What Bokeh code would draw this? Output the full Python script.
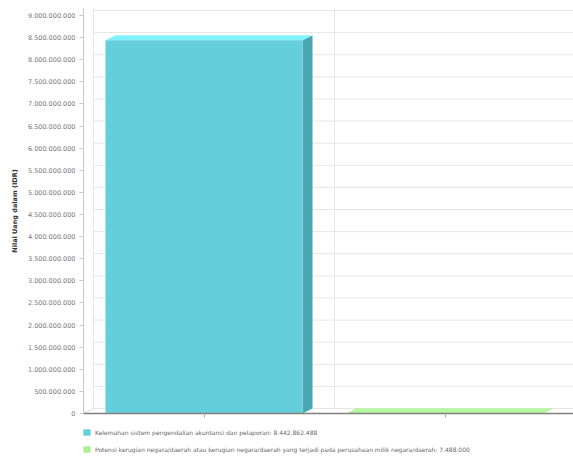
from bokeh.plotting import figure
from bokeh.layouts import column
from bokeh.models import Range1d, FixedTicker, Legend, LegendItem, ColumnDataSource
from bokeh.embed import file_html
from bokeh.resources import INLINE

# ---- data ----
categories = [
    "Kelemahan sistem pengendalian akuntansi dan pelaporan",
    "Potensi kerugian negara/daerah atau kerugian negara/daerah yang terjadi pada perusahaan milik negara/daerah",
]
values = [8442862488, 7488000]
value_labels = ["8.442.862.488", "7.488.000"]
y_ticks = [0, 500000000, 1000000000, 1500000000, 2000000000, 2500000000, 3000000000,
           3500000000, 4000000000, 4500000000, 5000000000, 5500000000, 6000000000,
           6500000000, 7000000000, 7500000000, 8000000000, 8500000000, 9000000000]
y_tick_labels = ["0", "500.000.000", "1.000.000.000", "1.500.000.000", "2.000.000.000",
                 "2.500.000.000", "3.000.000.000", "3.500.000.000", "4.000.000.000",
                 "4.500.000.000", "5.000.000.000", "5.500.000.000", "6.000.000.000",
                 "6.500.000.000", "7.000.000.000", "7.500.000.000", "8.000.000.000",
                 "8.500.000.000", "9.000.000.000"]
y_title = "Nilai Uang dalam (IDR)"

front_colors = ["#64cfdc", "#a9ef8e"]
side_colors = ["#4aa7b3", "#8ccb77"]
top_colors = ["#80f3fc", "#b6f7a0"]

# ---- layout constants ----
W = 573
H_MAIN, H_LEG = 421, 36
LEFT, TOP, BOTTOM = 83, 8, 8
FRAME_W = W - LEFT
FRAME_H = H_MAIN - TOP - BOTTOM
PX_PER_CAT = 241.0
Y_MAX = y_ticks[-1]
PX_SPAN = 398.0  # pixels from 0 to Y_MAX
x_end = FRAME_W / PX_PER_CAT
y_end = Y_MAX * FRAME_H / PX_SPAN
DX = 10 / PX_PER_CAT
DY = 5 * Y_MAX / PX_SPAN
HW = 98.5 / PX_PER_CAT
font = "DejaVu Sans"

p = figure(width=W, height=H_MAIN, output_backend="svg", toolbar_location=None,
           x_range=Range1d(0, x_end), y_range=Range1d(0, y_end),
           min_border_left=LEFT, min_border_right=0, min_border_top=TOP,
           min_border_bottom=BOTTOM)
p.outline_line_color = None
p.xgrid.visible = False
p.ygrid.visible = False

# back wall grid lines (3D offset)
gx0 = [DX] * len(y_ticks)
gx1 = [x_end] * len(y_ticks)
gy = [t + DY for t in y_ticks]
p.segment(x0=gx0, y0=gy, x1=gx1, y1=gy, line_color="#e6e6e6", line_width=1)
p.segment(x0=[DX, 1 + DX], y0=[DY, DY], x1=[DX, 1 + DX], y1=[y_end, y_end],
          line_color="#e6e6e6", line_width=1)
p.segment(x0=[0], y0=[0], x1=[DX], y1=[DY], line_color="#dddddd", line_width=1)

centers = [i + 0.5 for i in range(len(values))]

side_xs, side_ys, top_xs, top_ys = [], [], [], []
for c, v in zip(centers, values):
    side_xs.append([c + HW, c + HW + DX, c + HW + DX, c + HW])
    side_ys.append([0, DY, v + DY, v])
    top_xs.append([c - HW, c - HW + DX, c + HW + DX, c + HW])
    top_ys.append([v, v + DY, v + DY, v])
p.patches(xs=side_xs, ys=side_ys, fill_color=side_colors, line_color=None)
p.patches(xs=top_xs, ys=top_ys, fill_color=top_colors, line_color=None)

src = ColumnDataSource(dict(
    left=[c - HW for c in centers], right=[c + HW for c in centers],
    bottom=[0] * len(values), top=values, color=front_colors))
p.quad(left="left", right="right", bottom="bottom", top="top",
       fill_color="color", line_color=None, source=src)

ya = p.yaxis[0]
ya.ticker = FixedTicker(ticks=y_ticks)
ya.major_label_overrides = {t: l for t, l in zip(y_ticks, y_tick_labels)}
ya.major_label_text_font = font
ya.major_label_text_font_size = "6.5px"
ya.major_label_text_color = "#777777"
ya.major_tick_out = 4
ya.major_tick_in = 0
ya.minor_tick_out = 0
ya.minor_tick_in = 0
ya.major_label_standoff = 4
ya.axis_line_color = "#c8c8c8"
ya.major_tick_line_color = "#c8c8c8"
ya.axis_label = y_title
ya.axis_label_text_font = font
ya.axis_label_text_font_size = "6.5px"
ya.axis_label_text_font_style = "bold"
ya.axis_label_text_color = "#333333"
ya.axis_label_standoff = 6

xa = p.xaxis[0]
xa.ticker = FixedTicker(ticks=centers)
xa.major_label_overrides = {c: "" for c in centers}
xa.major_label_text_font_size = "1px"
xa.major_label_standoff = 0
xa.major_tick_out = 4
xa.major_tick_in = 0
xa.minor_tick_out = 0
xa.minor_tick_in = 0
xa.axis_line_color = "#808080"
xa.axis_line_width = 1.5
xa.major_tick_line_color = "#aaaaaa"

# ---- legend strip ----
q = figure(width=W, height=H_LEG, output_backend="svg", toolbar_location=None,
           x_range=Range1d(100, 101), y_range=Range1d(100, 101),
           x_axis_location=None, y_axis_location=None,
           min_border_left=0, min_border_right=0, min_border_top=0, min_border_bottom=0)
q.outline_line_color = None
q.xgrid.visible = False
q.ygrid.visible = False
lsrc = ColumnDataSource(dict(
    left=[c - HW for c in centers], right=[c + HW for c in centers],
    bottom=[0] * len(values), top=values, color=front_colors))
lr = q.quad(left="left", right="right", bottom="bottom", top="top",
            fill_color="color", line_color=None, source=lsrc)
items = [LegendItem(label=f"{cat}: {lab}", renderers=[lr], index=i)
         for i, (cat, lab) in enumerate(zip(categories, value_labels))]
legend = Legend(items=items, location=(-1, 4), orientation="vertical",
                glyph_width=9, glyph_height=8, label_height=8, label_width=10,
                spacing=9, padding=0, margin=0, label_standoff=4,
                label_text_font=font, label_text_font_size="6px",
                label_text_color="#666666",
                border_line_alpha=0, background_fill_alpha=0)
q.add_layout(legend)

layout = column(p, q, spacing=0)
open("out.html", "w").write(file_html(layout, INLINE))
